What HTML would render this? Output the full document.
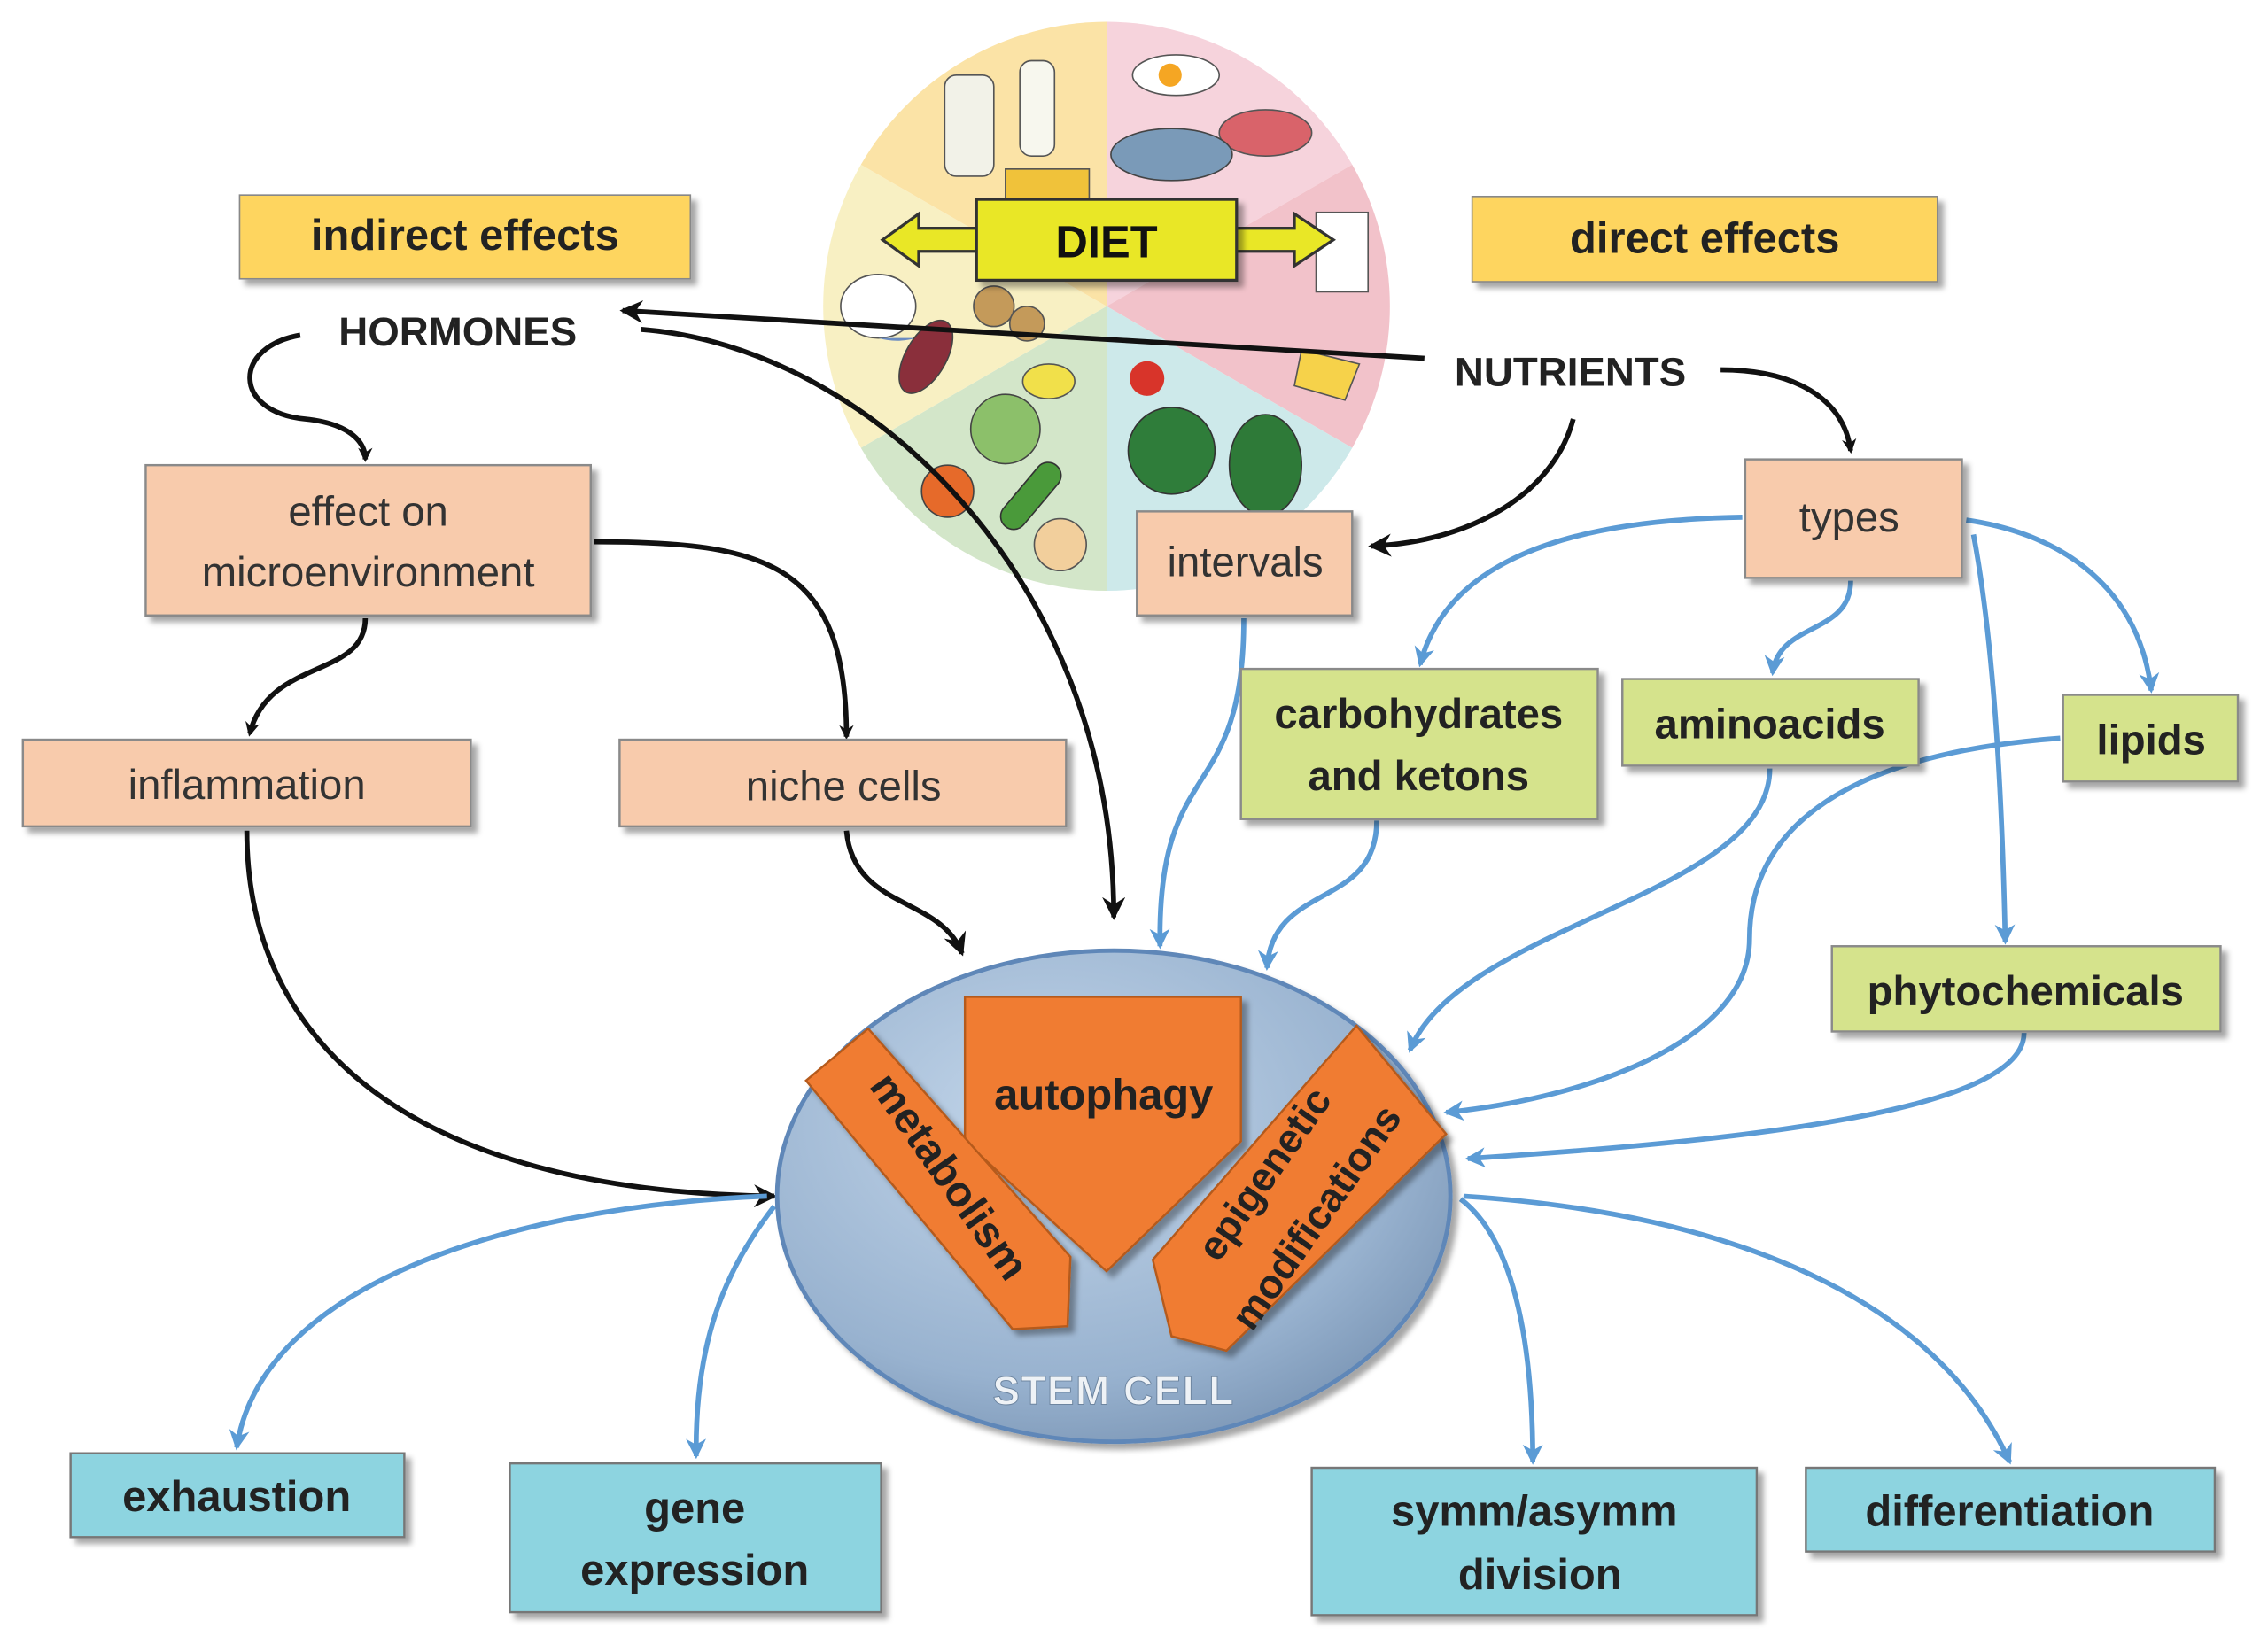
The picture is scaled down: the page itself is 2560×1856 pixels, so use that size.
<!DOCTYPE html>
<html><head><meta charset="utf-8"><style>
html,body{margin:0;padding:0;background:#fff;}
svg{display:block;}
text{font-family:"Liberation Sans",sans-serif;}
</style></head><body>
<svg width="2560" height="1856" viewBox="0 0 1568 1138" xmlns="http://www.w3.org/2000/svg">
<defs>
<marker id="ab" markerWidth="10" markerHeight="10" refX="8" refY="5" orient="auto" markerUnits="userSpaceOnUse"><path d="M0,0 L10,5 L0,10 L3,5z" fill="#111"/></marker>
<marker id="au" markerWidth="14" markerHeight="14" refX="12" refY="7" orient="auto" markerUnits="userSpaceOnUse"><path d="M0,0 L14,7 L0,14 L4,7z" fill="#5b9bd5"/></marker>
<marker id="ak" markerWidth="16" markerHeight="16" refX="14" refY="8" orient="auto" markerUnits="userSpaceOnUse"><path d="M0,0 L16,8 L0,16 L5,8z" fill="#111"/></marker>
<radialGradient id="cell" cx="0.4" cy="0.35" r="0.75"><stop offset="0" stop-color="#c3d6ea"/><stop offset="0.7" stop-color="#98b2cf"/><stop offset="1" stop-color="#7590b0"/></radialGradient>
<filter id="sh" x="-10%" y="-10%" width="130%" height="140%"><feDropShadow dx="4" dy="4" stdDeviation="2" flood-color="#000" flood-opacity="0.35"/></filter>
</defs>

<!-- diet wheel -->
<g transform="translate(765,212)">
<path d="M0,0 L0,-197 A197,197 0 0 1 170,-98z" fill="#f6d3dc"/>
<path d="M0,0 L170,-98 A197,197 0 0 1 170,98z" fill="#f2c2ca"/>
<path d="M0,0 L170,98 A197,197 0 0 1 0,197z" fill="#cde9ea"/>
<path d="M0,0 L0,197 A197,197 0 0 1 -170,98z" fill="#d3e6c9"/>
<path d="M0,0 L-170,98 A197,197 0 0 1 -170,-98z" fill="#f8f0c3"/>
<path d="M0,0 L-170,-98 A197,197 0 0 1 0,-197z" fill="#fbe3a6"/>
<!-- food hints -->
<rect x="-112" y="-160" width="34" height="70" rx="8" fill="#f2f2e8" stroke="#555"/>
<rect x="-60" y="-170" width="24" height="66" rx="8" fill="#f7f7ee" stroke="#555"/>
<rect x="-70" y="-95" width="58" height="26" fill="#f0c23a" stroke="#555"/>
<ellipse cx="48" cy="-160" rx="30" ry="14" fill="#fff" stroke="#555"/><circle cx="44" cy="-160" r="8" fill="#f5a623"/>
<ellipse cx="110" cy="-120" rx="32" ry="16" fill="#d9636a" stroke="#555"/>
<ellipse cx="45" cy="-105" rx="42" ry="18" fill="#7a9ab8" stroke="#444"/>
<rect x="145" y="-65" width="36" height="55" fill="#fff" stroke="#555"/>
<path d="M135,30 L175,40 L165,65 L130,55z" fill="#f6d24a" stroke="#555"/>
<circle cx="45" cy="100" r="30" fill="#2f7d3a" stroke="#333"/>
<ellipse cx="110" cy="110" rx="25" ry="35" fill="#2e7a38" stroke="#333"/>
<circle cx="28" cy="50" r="12" fill="#d8342a"/>
<ellipse cx="-40" cy="52" rx="18" ry="12" fill="#f1e04a" stroke="#555"/>
<circle cx="-70" cy="85" r="24" fill="#8cc06a" stroke="#444"/>
<rect x="-60" y="105" width="18" height="55" rx="9" transform="rotate(40 -50 130)" fill="#4a9a3a" stroke="#333"/>
<circle cx="-110" cy="128" r="18" fill="#e66a2a" stroke="#444"/>
<circle cx="-32" cy="165" r="18" fill="#f2cf9c" stroke="#555"/>
<ellipse cx="-158" cy="0" rx="26" ry="22" fill="#fff" stroke="#555"/>
<path d="M-158,22 A26,14 0 0 0 -132,22" fill="#6b8cc2"/>
<ellipse cx="-125" cy="35" rx="14" ry="28" transform="rotate(30 -125 35)" fill="#8a2f3b" stroke="#444"/>
<circle cx="-78" cy="0" r="14" fill="#c49a5a" stroke="#555"/>
<circle cx="-55" cy="12" r="12" fill="#c49a5a" stroke="#555"/>
</g>

<!-- DIET box with arrows -->
<path d="M610,166 L635,148 L635,158 L895,158 L895,148 L922,166 L895,184 L895,174 L635,174 L635,184z" fill="#e9e726" stroke="#333" stroke-width="2"/>
<rect x="675" y="138" width="180" height="56" fill="#e9e726" stroke="#333" stroke-width="2" filter="url(#sh)"/>
<text x="765" y="178" font-size="31" font-weight="bold" text-anchor="middle" fill="#111">DIET</text>

<!-- effect boxes -->
<rect x="165" y="135" width="312" height="58" fill="#fed55f" stroke="#888" filter="url(#sh)"/>
<text x="321" y="173" font-size="30" font-weight="bold" text-anchor="middle" fill="#222">indirect effects</text>
<rect x="1018" y="136" width="322" height="59" fill="#fed55f" stroke="#888" filter="url(#sh)"/>
<text x="1179" y="175" font-size="30" font-weight="bold" text-anchor="middle" fill="#222">direct effects</text>

<text x="316" y="239" font-size="28" font-weight="bold" text-anchor="middle" fill="#222">HORMONES</text>
<text x="1086" y="267" font-size="28" font-weight="bold" text-anchor="middle" fill="#222">NUTRIENTS</text>

<!-- black connectors -->
<g fill="none" stroke="#111" stroke-width="3.5">
<path d="M985,248 L430,215" marker-end="url(#ak)"/>
<path d="M207,232 C160,240 160,285 210,290 C240,293 252,305 252,318" marker-end="url(#ab)"/>
<path d="M443,228 C600,240 770,400 770,635" marker-end="url(#ak)"/>
<path d="M1190,256 C1240,256 1275,275 1280,312" marker-end="url(#ab)"/>
<path d="M1088,290 C1075,340 1020,375 948,378" marker-end="url(#ak)"/>
<path d="M410,375 C530,375 585,390 585,510" marker-end="url(#ab)"/>
<path d="M252,428 C252,470 185,455 172,508" marker-end="url(#ab)"/>
<path d="M585,575 C590,630 650,620 665,660" marker-end="url(#ak)"/>
<path d="M170,575 C170,720 280,825 535,828" marker-end="url(#ak)"/>
</g>

<!-- blue connectors -->
<g fill="none" stroke="#5b9bd5" stroke-width="3.5">
<path d="M1205,358 C1080,360 1000,390 982,460" marker-end="url(#au)"/>
<path d="M1280,402 C1280,440 1230,430 1226,466" marker-end="url(#au)"/>
<path d="M1360,360 C1430,370 1480,410 1488,478" marker-end="url(#au)"/>
<path d="M1365,370 C1380,450 1385,560 1387,652" marker-end="url(#au)"/>
<path d="M860,428 C860,560 800,520 802,655" marker-end="url(#au)"/>
<path d="M952,568 C952,630 880,610 876,670" marker-end="url(#au)"/>
<path d="M1224,532 C1224,620 1010,640 975,727" marker-end="url(#au)"/>
<path d="M1425,511 C1300,520 1210,560 1210,650 C1210,720 1100,760 1000,770" marker-end="url(#au)"/>
<path d="M1400,715 C1400,770 1200,790 1015,802" marker-end="url(#au)"/>
<path d="M530,828 C350,835 180,890 163,1002" marker-end="url(#au)"/>
<path d="M535,835 C500,880 480,930 481,1008" marker-end="url(#au)"/>
<path d="M1010,830 C1050,860 1060,940 1060,1012" marker-end="url(#au)"/>
<path d="M1012,828 C1200,840 1340,900 1390,1012" marker-end="url(#au)"/>
</g>

<!-- peach boxes -->
<g fill="#f8cbac" stroke="#8a8a8a" stroke-width="1.5" filter="url(#sh)">
<rect x="100" y="322" width="308" height="104"/>
<rect x="15" y="512" width="310" height="60"/>
<rect x="428" y="512" width="309" height="60"/>
<rect x="786" y="354" width="149" height="72"/>
<rect x="1207" y="318" width="150" height="82"/>
</g>
<g font-size="29" fill="#333" text-anchor="middle">
<text x="254" y="364">effect on</text>
<text x="254" y="406">microenvironment</text>
<text x="170" y="553">inflammation</text>
<text x="583" y="554">niche cells</text>
<text x="861" y="399">intervals</text>
<text x="1279" y="368">types</text>
</g>

<!-- green boxes -->
<g fill="#d5e38c" stroke="#8a8a8a" stroke-width="1.5" filter="url(#sh)">
<rect x="858" y="463" width="247" height="104"/>
<rect x="1122" y="470" width="205" height="60"/>
<rect x="1427" y="481" width="121" height="60"/>
<rect x="1267" y="655" width="269" height="59"/>
</g>
<g font-size="29" font-weight="bold" fill="#222" text-anchor="middle">
<text x="981" y="504">carbohydrates</text>
<text x="981" y="547">and ketons</text>
<text x="1224" y="511">aminoacids</text>
<text x="1488" y="522">lipids</text>
<text x="1401" y="696">phytochemicals</text>
</g>

<!-- stem cell -->
<ellipse cx="770" cy="828" rx="233" ry="170" fill="url(#cell)" stroke="#5f87b8" stroke-width="3" filter="url(#sh)"/>
<text x="770" y="972" font-size="28" font-weight="bold" text-anchor="middle" fill="#eef2f6" stroke="#6d85a0" stroke-width="0.6" letter-spacing="1">STEM CELL</text>
<g fill="#f07c33" stroke="#b55a1a" stroke-width="1.5" filter="url(#sh)">
<path d="M667,690 L858,690 L858,790 L765,880 L667,790z"/>
<path d="M557,748 L600,712 L740,870 L738,918 L700,920z"/>
<path d="M938,710 L1000,785 L848,935 L810,925 L797,872z"/>
</g>
<text x="763" y="768" font-size="30" font-weight="bold" text-anchor="middle" fill="#222">autophagy</text>
<text transform="translate(648,820) rotate(55)" font-size="30" font-weight="bold" text-anchor="middle" fill="#222">metabolism</text>
<text transform="translate(882,818) rotate(-55)" font-size="28" font-weight="bold" text-anchor="middle" fill="#222">epigenetic</text>
<text transform="translate(918,848) rotate(-55)" font-size="28" font-weight="bold" text-anchor="middle" fill="#222">modifications</text>

<!-- cyan boxes -->
<g fill="#8dd4e0" stroke="#777" stroke-width="1.5" filter="url(#sh)">
<rect x="48" y="1006" width="231" height="58"/>
<rect x="352" y="1013" width="257" height="103"/>
<rect x="907" y="1016" width="308" height="102"/>
<rect x="1249" y="1016" width="283" height="58"/>
</g>
<g font-size="30" font-weight="bold" fill="#222" text-anchor="middle">
<text x="163" y="1046">exhaustion</text>
<text x="480" y="1054">gene</text>
<text x="480" y="1097">expression</text>
<text x="1061" y="1056">symm/asymm</text>
<text x="1065" y="1100">division</text>
<text x="1390" y="1056">differentiation</text>
</g>
</svg>
</body></html>
